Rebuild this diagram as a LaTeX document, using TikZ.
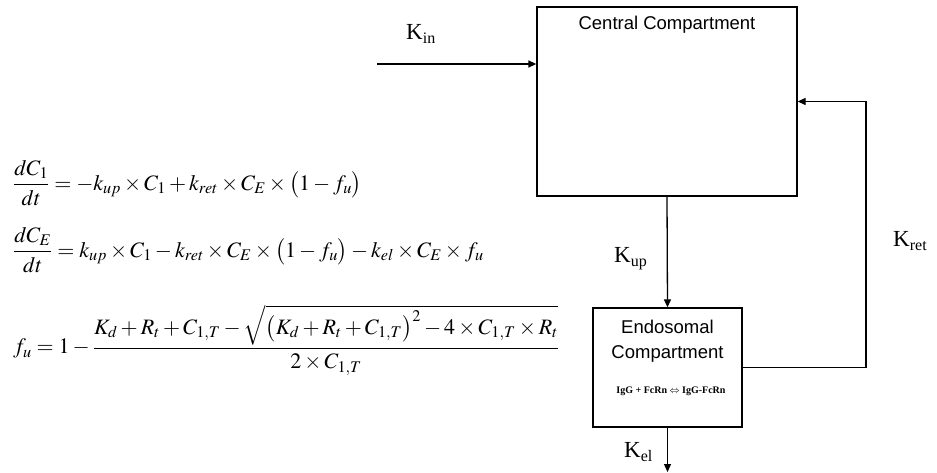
\documentclass[tikz,border=0pt]{standalone}
\usepackage{mathptmx}
\usepackage[no-math]{fontspec}
\setmainfont{Liberation Serif}
\setsansfont{Liberation Sans}
\usepackage{tikz}
\usetikzlibrary{arrows.meta, positioning, calc}
\newcommand{\ratek}[1]{K\raisebox{-4pt}{\fontsize{16}{16}\selectfont #1}}
\tikzset{
  compbox/.style={draw, line width=1.3pt, inner sep=0pt, fill=white},
  boxtitle/.style={inner sep=0pt, align=center,
    font=\fontsize{18.5}{25}\sffamily},
  ratelbl/.style={inner sep=0pt, anchor=base west,
    font=\fontsize{23}{25}\selectfont},
  flowarr/.style={
    -{Triangle[length=8pt,width=7pt]},
    line width=1.3pt
  },
  eqn/.style={inner sep=0pt, anchor=west,
    font=\fontsize{22}{26}\selectfont}
}

\begin{document}
\begin{tikzpicture}[x=1pt, y=-1pt]
  \useasboundingbox (0,0) rectangle (937,473);
  % compartments
  \node[compbox, minimum width=260pt, minimum height=189pt] (central) at (667,101.5) {};
  \node[compbox, minimum width=149pt, minimum height=119pt] (endo) at (667.5,367.5) {};
  \node[boxtitle, anchor=base] (centraltitle) at (667,30) {Central Compartment};
  \node[boxtitle, anchor=north] (endotitle) at (667.5,319.5) {Endosomal\\Compartment};
  \node[inner sep=0pt, anchor=base, font=\bfseries\fontsize{10}{12}\selectfont]
    (binding) at (671,393) {IgG + FcRn $\Leftrightarrow$ IgG-FcRn};
  % flows
  \coordinate (kinstart) at (377,64);
  \coordinate (retturn) at (866,101.5);
  \coordinate (kelend) at (667.5,472);
  \draw[flowarr] (kinstart) -- (kinstart -| central.west);
  \draw[flowarr] (central.south) -- (endo.north);
  \draw[flowarr] (endo.east) -| (retturn) -- (central.east);
  \draw[flowarr] (endo.south) -- (kelend);
  % rate constants
  \node[ratelbl] (kin)  at (406,40)  {\ratek{in}};
  \node[ratelbl] (kup)  at (614,262) {\ratek{up}};
  \node[ratelbl] (kret) at (893,247) {\ratek{ret}};
  \node[ratelbl] (kel)  at (624,457) {\ratek{el}};
  % model equations
  \node[eqn] (eqcentral) at (13,183)
    {$\displaystyle\frac{dC_1}{dt}=-k_{up}\times C_1+k_{ret}\times C_E\times\bigl(1-f_u\bigr)$};
  \node[eqn] (eqendo) at (13,250)
    {$\displaystyle\frac{dC_E}{dt}=k_{up}\times C_1-k_{ret}\times C_E\times\bigl(1-f_u\bigr)-k_{el}\times C_E\times f_u$};
  \node[eqn] (eqfree) at (13,340)
    {$\displaystyle f_u=1-\frac{K_d+R_t+C_{1,T}-\sqrt{\bigl(K_d+R_t+C_{1,T}\bigr)^2-4\times C_{1,T}\times R_t}}{2\times C_{1,T}}$};
\end{tikzpicture}
\end{document}
